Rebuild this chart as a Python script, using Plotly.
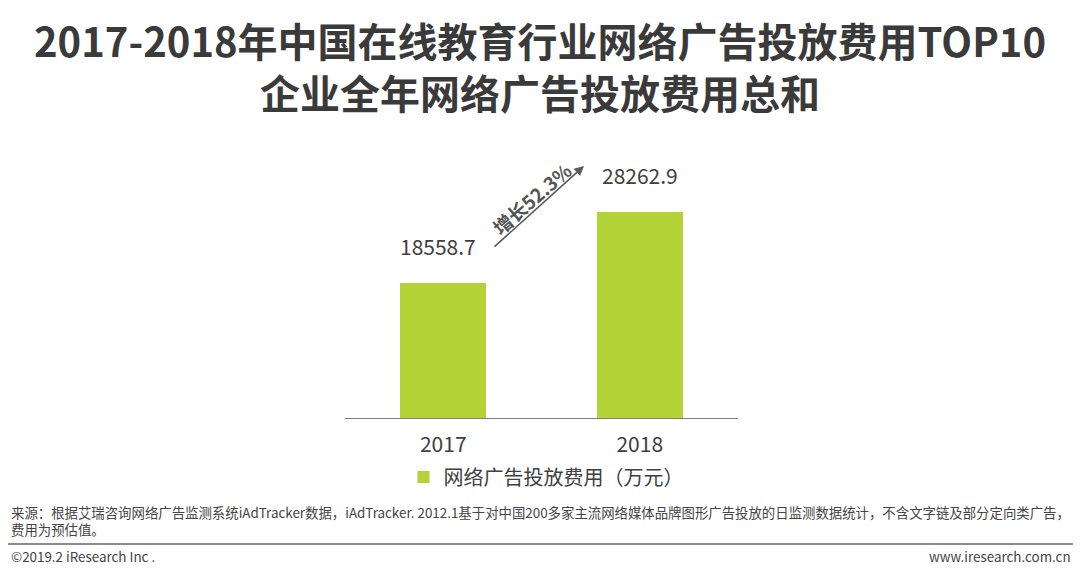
import plotly.graph_objects as go

years = ["2017", "2018"]
spend = [18558.7, 28262.9]
series_name = "网络广告投放费用（万元）"
growth_label = "增长52.3%"

W, H = 1080, 571
L, R, T, B = 345, 738, 150, 418  # plot area in pixels
green = "#b2d235"
dark = "#404040"
cjk = "Noto Sans CJK SC"


def px(x):
    return (x - L) / (R - L)


def py(y):
    return (B - y) / (B - T)


def text_at(x, y, text, size, color, xanchor="center", bold=False, angle=0, align="center"):
    fig.add_annotation(
        x=px(x), y=py(y), xref="paper", yref="paper",
        xanchor=xanchor, yanchor="middle", text=text, showarrow=False,
        textangle=angle, align=align,
        font=dict(family=cjk, size=size, color=color,
                  weight="bold" if bold else "normal"),
    )


fig = go.Figure()

fig.add_trace(go.Bar(
    x=years,
    y=spend,
    width=0.44,
    marker=dict(color=green, line=dict(width=0)),
    name=series_name,
    showlegend=True,
))

# value labels above bars
for i, v in enumerate(spend):
    fig.add_annotation(
        x=i, y=v, xref="x", yref="y",
        text=f"{v:.1f}", showarrow=False,
        xanchor="center", yanchor="bottom", yshift=20,
        xshift=-5 if i == 0 else 0,
        font=dict(family=cjk, size=21, color=dark),
    )

# growth arrow (tail given as pixel offset from head)
fig.add_annotation(
    x=px(584), y=py(166), xref="paper", yref="paper",
    ax=-91, ay=82, axref="pixel", ayref="pixel",
    showarrow=True, arrowhead=2, arrowsize=1.2, arrowwidth=1.6,
    arrowcolor="#5a5a5a", text="",
)
text_at(531, 198, growth_label, 19, "#555555", bold=True, angle=-41)

# title
text_at(540, 66, "2017-2018年中国在线教育行业网络广告投放费用TOP10<br>企业全年网络广告投放费用总和",
        40, "#3a3a3a", bold=True)

# footer
foot = "#444444"
text_at(9, 520, "来源：根据艾瑞咨询网络广告监测系统iAdTracker数据，iAdTracker. 2012.1基于对中国200多家主流网络媒体品牌图形广告投放的日监测数据统计，不含文字链及部分定向类广告，<br>费用为预估值。",
        13.4, foot, xanchor="left", align="left")
fig.add_shape(type="line", xref="paper", yref="paper",
              x0=px(8), x1=px(1073), y0=py(544), y1=py(544),
              line=dict(color="#8c8c8c", width=2))
text_at(9, 556, "©2019.2 iResearch Inc .", 13.4, foot, xanchor="left")
text_at(1073, 556, "www.iresearch.com.cn", 13.4, foot, xanchor="right")

fig.update_layout(
    width=W, height=H,
    margin=dict(l=L, r=W - R, t=T, b=H - B, autoexpand=False),
    paper_bgcolor="white", plot_bgcolor="white",
    bargap=0,
    showlegend=True,
    legend=dict(
        orientation="h", x=px(546), xanchor="center", y=py(477), yanchor="middle",
        font=dict(family=cjk, size=20, color=dark),
        itemwidth=30, bgcolor="rgba(0,0,0,0)",
    ),
    xaxis=dict(
        type="category", range=[-0.5, 1.5],
        showline=True, linecolor="#7f7f7f", linewidth=1,
        ticks="", tickfont=dict(family=cjk, size=21, color=dark),
        ticklabelstandoff=8,
        showgrid=False, fixedrange=True,
    ),
    yaxis=dict(
        range=[0, 36770], visible=False, showgrid=False, fixedrange=True,
    ),
)

fig.write_html("out.html", config={"displayModeBar": False},
               post_script="document.body.style.margin='0';")
